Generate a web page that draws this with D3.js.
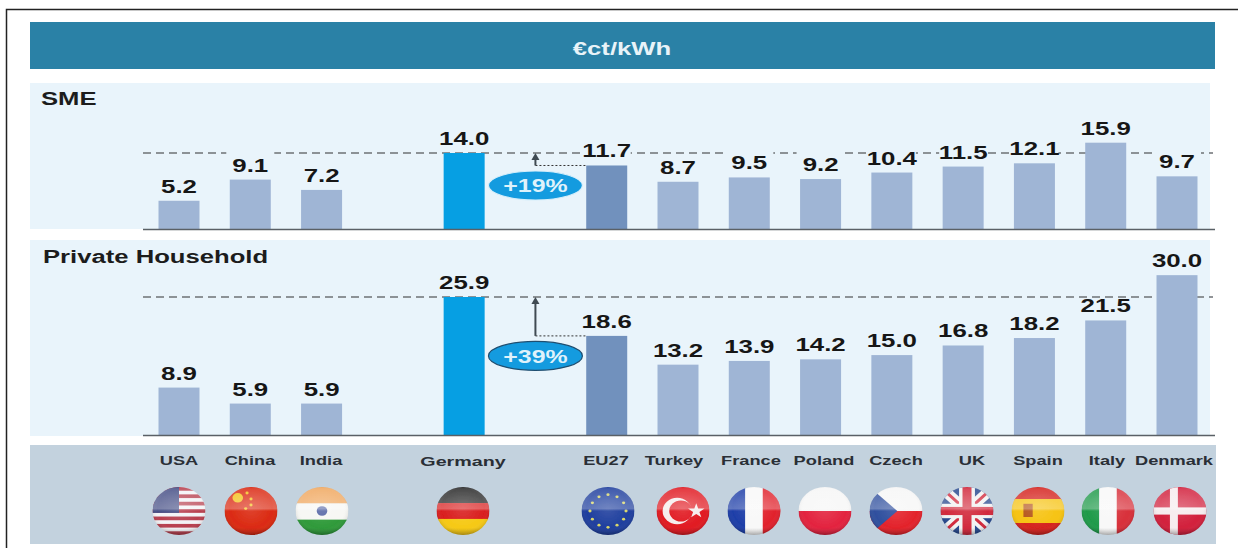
<!DOCTYPE html>
<html><head><meta charset="utf-8">
<script src="https://cdn.jsdelivr.net/npm/d3@7"></script>
<style>
html,body{margin:0;padding:0;background:#fff}
svg{display:block}
text{font-family:"Liberation Sans",Arial,sans-serif;font-weight:700}
</style></head><body><svg id="c" width="1238" height="548"></svg>
<script>
const slots = ["USA","China","India","_a","Germany","_b","EU27","Turkey","France","Poland","Czech","UK","Spain","Italy","Denmark"];
const categories = ["USA","China","India","Germany","EU27","Turkey","France","Poland","Czech","UK","Spain","Italy","Denmark"];
const smeValues = [5.2,9.1,7.2,14.0,11.7,8.7,9.5,9.2,10.4,11.5,12.1,15.9,9.7];
const householdValues = [8.9,5.9,5.9,25.9,18.6,13.2,13.9,14.2,15.0,16.8,18.2,21.5,30.0];
const smeMasked = ["China","EU27","France","Poland","Czech","UK","Spain","Denmark"];
const householdMasked = [];
const title = "€ct/kWh";
const smeTitle = "SME";
const householdTitle = "Private Household";
const smeBadge = "+19%";
const householdBadge = "+39%";

const svg = d3.select("#c");
const defs = svg.append("defs");
const STRETCH = 1.36;
const x = d3.scalePoint().domain(slots).range([179,1177]);
const W = 41;
const ySme = d3.scaleLinear().domain([0,14]).range([229,153]);
const yHh = d3.scaleLinear().domain([0,25.9]).range([435,297]);

function txt(g,s,px,py,size,fill,anchor,sx){
  return g.append("text").attr("transform",`translate(${px},${py}) scale(${sx||STRETCH},1)`)
    .attr("text-anchor",anchor||"middle").attr("font-size",size).attr("fill",fill||"#161616").text(s);
}
// frame
svg.append("path").attr("d","M6.5,548V9.5H1238").attr("fill","none").attr("stroke","#222").attr("stroke-width",1.5);
// header
svg.append("rect").attr("x",30).attr("y",22).attr("width",1185).attr("height",47).attr("fill","#2a81a6");
txt(svg,title,622,55,19,"#e8f3f8",null,1.35);
// panels
const panelBg="#e9f4fb";
svg.append("rect").attr("x",30).attr("y",83).attr("width",1180).attr("height",146).attr("fill",panelBg);
svg.append("rect").attr("x",30).attr("y",240).attr("width",1180).attr("height",196).attr("fill",panelBg);
svg.append("rect").attr("x",30).attr("y",445).attr("width",1186).attr("height",99).attr("fill","#c3d2de");
txt(svg,smeTitle,41,105,19,"#1c1c1c","start",1.35);
txt(svg,householdTitle,43,263,19,"#1c1c1c","start",1.35);

function colorOf(c){return c==="Germany"?"#069fe3":c==="EU27"?"#7191bd":"#9fb5d5";}
function panel(vals,y,ref,masked,badge,badgeStroke,labelGap){
  const g=svg.append("g");
  const base=y(0);
  g.append("line").attr("x1",143).attr("x2",1213).attr("y1",y(ref)).attr("y2",y(ref))
    .attr("stroke","#6d7276").attr("stroke-width",1.6).attr("stroke-dasharray","8 5");
  // masks behind labels that interrupt the dashed line
  categories.forEach((c,i)=>{
    if(masked.includes(c)) g.append("rect").attr("x",x(c)-24).attr("width",48)
      .attr("y",y(ref)-3).attr("height",6).attr("fill",panelBg);
  });
  g.selectAll("rect.bar").data(categories).join("rect").attr("class","bar")
    .attr("x",c=>x(c)-W/2).attr("width",W)
    .attr("y",(c,i)=>y(vals[i])).attr("height",(c,i)=>base-y(vals[i]))
    .attr("fill",colorOf);
  g.append("line").attr("x1",143).attr("x2",1215).attr("y1",base+.5).attr("y2",base+.5)
    .attr("stroke","#5a6066").attr("stroke-width",1.5);
  categories.forEach((c,i)=>txt(g,d3.format(".1f")(vals[i]),x(c),y(vals[i])-labelGap,19,"#161616"));
  // delta annotation
  const eu=vals[categories.indexOf("EU27")], mid=(x("_b"));
  g.append("line").attr("x1",mid).attr("x2",x("EU27")-W/2).attr("y1",y(eu)).attr("y2",y(eu))
    .attr("stroke","#333").attr("stroke-width",1).attr("stroke-dasharray","2 2");
  g.append("line").attr("x1",mid).attr("x2",mid).attr("y1",y(eu)).attr("y2",y(ref)+4)
    .attr("stroke","#3f4a52").attr("stroke-width",2);
  g.append("path").attr("d",`M${mid-4},${y(ref)+7}L${mid},${y(ref)}L${mid+4},${y(ref)+7}Z`).attr("fill","#3f4a52");
  const by=y(eu)+20;
  g.append("ellipse").attr("cx",mid).attr("cy",by).attr("rx",47).attr("ry",14.5)
    .attr("fill","#149bdf").attr("stroke",badgeStroke).attr("stroke-width",1.2);
  txt(g,badge,mid,by+7,19,"#dff2fb",null,1.31);
}
panel(smeValues,ySme,14,smeMasked,smeBadge,"#d6eefa",8);
panel(householdValues,yHh,25.9,householdMasked,householdBadge,"#1f4e70",8);

// category labels
const labelCx={USA:179,China:250,India:321,Germany:463,EU27:606,Turkey:674,France:751,Poland:824,Czech:896,UK:972,Spain:1038,Italy:1107,Denmark:1174};
categories.forEach(c=>txt(svg,c,labelCx[c],c==="Germany"?466:464.5,c==="Germany"?13.5:12.5,"#2a2f36",null,1.46));

// flags
const blur=defs.append("filter").attr("id","soft");
blur.append("feGaussianBlur").attr("stdDeviation",.6);
const grad=defs.append("radialGradient").attr("id","gloss").attr("cx",.5).attr("cy",.45).attr("r",.6);
[[0,"#fff",.12],[.68,"#fff",0],[.9,"#000",.12],[1,"#000",.32]].forEach(s=>
  grad.append("stop").attr("offset",s[0]).attr("stop-color",s[1]).attr("stop-opacity",s[2]));
const shine=defs.append("linearGradient").attr("id","shine").attr("x1",0).attr("x2",0).attr("y1",0).attr("y2",1);
[[0,"#fff",.0],[.04,"#fff",.15],[.45,"#fff",.28],[.5,"#fff",0],[.85,"#000",0],[1,"#000",.22]].forEach(s=>
  shine.append("stop").attr("offset",s[0]).attr("stop-color",s[1]).attr("stop-opacity",s[2]));

function R(g,x0,y0,w,h,f){g.append("rect").attr("x",x0).attr("y",y0).attr("width",w).attr("height",h).attr("fill",f);}
const flagPainters={
 USA:g=>{R(g,-1,-1,2,2,"#f3f3f6");d3.range(0,13,2).forEach(i=>R(g,-1,-1+i*2/13,2,2/13,"#b8404f"));R(g,-1,-1,1,1.08,"#464f86");},
 China:g=>{R(g,-1,-1,2,2,"#db2a12");g.append("circle").attr("cx",-.5).attr("cy",-.55).attr("r",.2).attr("fill","#f4c21c");
   [[-.15,-.75],[0,-.5],[0,-.25],[-.2,-.1]].forEach(p=>g.append("circle").attr("cx",p[0]).attr("cy",p[1]).attr("r",.06).attr("fill","#f4c21c"));},
 India:g=>{R(g,-1,-1,2,.7,"#f0a860");R(g,-1,-.32,2,.7,"#f7f7f4");R(g,-1,.36,2,.7,"#2f9a3a");g.append("circle").attr("r",.2).attr("fill","#5a6aa8");},
 Germany:g=>{R(g,-1,-1,2,.68,"#2a2a2a");R(g,-1,-.33,2,.68,"#d91f1f");R(g,-1,.33,2,.7,"#f6c915");},
 EU27:g=>{R(g,-1,-1,2,2,"#1f3f9e");d3.range(12).forEach(i=>{const a=i*Math.PI/6;g.append("circle").attr("cx",.68*Math.cos(a)).attr("cy",.68*Math.sin(a)).attr("r",.06).attr("fill","#d8d66a");});},
 Turkey:g=>{R(g,-1,-1,2,2,"#e11a22");g.append("circle").attr("cx",-.22).attr("r",.55).attr("fill","#f6ecec");g.append("circle").attr("cx",-.08).attr("r",.44).attr("fill","#e11a22");
   g.append("path").attr("d",d3.symbol(d3.symbolStar,.12)()).attr("transform","translate(.5,0)").attr("fill","#f6ecec");},
 France:g=>{R(g,-1,-1,.67,2,"#1e3ea8");R(g,-.33,-1,.67,2,"#f8f8f8");R(g,.33,-1,.7,2,"#e1222c");},
 Poland:g=>{R(g,-1,-1,2,1,"#f6f6f6");R(g,-1,0,2,1,"#e3233f");},
 Czech:g=>{R(g,-1,-1,2,1,"#f6f6f6");R(g,-1,0,2,1,"#e3232b");g.append("path").attr("d","M-1,-1L.05,0L-1,1Z").attr("fill","#2f4f9e");},
 UK:g=>{R(g,-1,-1,2,2,"#27498f");g.append("path").attr("d","M-1,-1L1,1M1,-1L-1,1").attr("stroke","#f2f2f2").attr("stroke-width",.42);
   g.append("path").attr("d","M-1,-1L1,1M1,-1L-1,1").attr("stroke","#d22a3d").attr("stroke-width",.12);
   R(g,-1,-.3,2,.6,"#f2f2f2");R(g,-.3,-1,.6,2,"#f2f2f2");R(g,-1,-.17,2,.34,"#d22a3d");R(g,-.17,-1,.34,2,"#d22a3d");},
 Spain:g=>{R(g,-1,-1,2,.55,"#d5241f");R(g,-1,-.5,2,1,"#f6c312");R(g,-1,.5,2,.55,"#d5241f");R(g,-.55,-.3,.35,.55,"#b5561c");},
 Italy:g=>{R(g,-1,-1,.67,2,"#1f9a4a");R(g,-.33,-1,.67,2,"#f8f8f8");R(g,.33,-1,.7,2,"#d8303a");},
 Denmark:g=>{R(g,-1,-1,2,2,"#d2203c");R(g,-.38,-1,.3,2,"#f6ecee");R(g,-1,-.15,2,.3,"#f6ecee");}
};
const flagCx={USA:179,China:251,India:322,Germany:463,EU27:608,Turkey:683,France:754,Poland:825,Czech:896,UK:967,Spain:1038,Italy:1108,Denmark:1180};
const flagLayer=svg.append("g").attr("filter","url(#soft)");
categories.forEach((c,i)=>{
  const id="cl"+i;
  defs.append("clipPath").attr("id",id).append("circle").attr("r",1);
  const f=flagLayer.append("g").attr("transform",`translate(${flagCx[c]},511) scale(26.5,24)`);
  const inner=f.append("g").attr("clip-path",`url(#${id})`);
  flagPainters[c](inner);
  f.append("circle").attr("r",1).attr("fill","url(#gloss)");
  f.append("circle").attr("r",1).attr("fill","url(#shine)");
});
</script></body></html>
